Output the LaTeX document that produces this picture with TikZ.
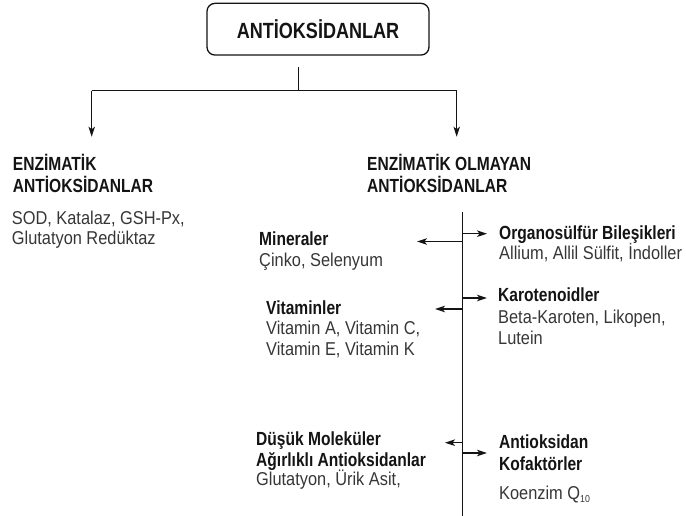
\documentclass[tikz,border=0pt]{standalone}
\usepackage{fontspec}
\setmainfont{Liberation Sans}
\newfontfamily\hdfont[FakeStretch=0.82]{Liberation Sans}
\newfontfamily\bdfont[FakeStretch=0.88]{Liberation Sans}
\usetikzlibrary{arrows.meta}
\definecolor{ink}{HTML}{141414}
\definecolor{bodyink}{HTML}{363636}
\tikzset{
  ln/.style={inner sep=0pt, anchor=west, text height=0.72em, text depth=0pt},
  hd/.style={ln, font=\hdfont\fontsize{19}{22}\selectfont\bfseries, text=ink},
  bd/.style={ln, font=\bdfont\fontsize{18.6}{22}\selectfont, text=bodyink},
  conn/.style={draw=ink, line width=1.2pt},
  arr/.style={conn, -{Stealth[length=10pt,width=6.5pt,inset=2.5pt]}},
  titlebox/.style={draw=ink, line width=1.3pt, rounded corners=8pt, minimum width=222pt, minimum height=51.7pt, inner sep=0pt, font=\hdfont\fontsize{22}{25}\selectfont\bfseries, text=ink}
}
\begin{document}
\begin{tikzpicture}[x=1pt,y=-1pt]
\useasboundingbox (0,0) rectangle (686,516);
% title
\node[titlebox] (title) at (318,29.2) {ANTİOKSİDANLAR};
% top tree
\coordinate (stem) at (298.3,66.7);
\coordinate (junc) at (298.3,90.7);
\coordinate (lcor) at (91.7,90.7);
\coordinate (rcor) at (456.7,90.7);
\coordinate (ltip) at (91.7,136.7);
\coordinate (rtip) at (456.7,136.7);
\draw[conn] (stem) -- (junc);
\draw[conn] (lcor) -- (rcor);
\draw[arr] (lcor) -- (ltip);
\draw[arr] (rcor) -- (rtip);
% left column
\node[hd] (ea1) at (12.7,166.5) {ENZİMATİK};
\node[hd] (ea2) at (12.7,189) {ANTİOKSİDANLAR};
\node[bd] (eb1) at (11.7,220.5) {SOD, Katalaz, GSH-Px,};
\node[bd] (eb2) at (11.7,241) {Glutatyon Redüktaz};
% right header
\node[hd] (na1) at (367,166.5) {ENZİMATİK OLMAYAN};
\node[hd] (na2) at (367,189) {ANTİOKSİDANLAR};
% spine
\coordinate (spt) at (462.5,211.7);
\coordinate (spb) at (462.5,516);
\draw[conn] (spt) -- (spb);
% left groups
\node[hd] (min1) at (259,242) {Mineraler};
\node[bd] (min2) at (259,263) {Çinko, Selenyum};
\node[hd] (vit1) at (266,310.5) {Vitaminler};
\node[bd] (vit2) at (266,331) {Vitamin A, Vitamin C,};
\node[bd] (vit3) at (266,351.5) {Vitamin E, Vitamin K};
\node[hd] (dus1) at (256,441.5) {Düşük Moleküler};
\node[hd] (dus2) at (256,462.5) {Ağırlıklı Antioksidanlar};
\node[bd] (dus3) at (256,482) {Glutatyon, Ürik Asit,};
% right groups
\node[hd] (org1) at (499,236) {Organosülfür Bileşikleri};
\node[bd] (org2) at (499,256) {Allium, Allil Sülfit, İndoller};
\node[hd] (kar1) at (498,298) {Karotenoidler};
\node[bd] (kar2) at (498,320) {Beta-Karoten, Likopen,};
\node[bd] (kar3) at (498,341) {Lutein};
\node[hd] (kof1) at (499,445) {Antioksidan};
\node[hd] (kof2) at (499,466.5) {Kofaktörler};
\node[bd] (kof3) at (499,495.5) {Koenzim Q\raisebox{-3pt}{\fontsize{10}{12}\selectfont 10}};
% branch arrows
\coordinate (tmin) at (417,241.5);
\coordinate (tvit) at (435,309);
\coordinate (tdus) at (445,442.7);
\coordinate (torg) at (487,233.7);
\coordinate (tkar) at (487,298);
\coordinate (tkof) at (487,453);
\draw[arr] (spt |- tmin) -- (tmin);
\draw[arr] (spt |- tvit) -- (tvit);
\draw[arr] (spt |- tdus) -- (tdus);
\draw[arr] (spt |- torg) -- (torg);
\draw[arr] (spt |- tkar) -- (tkar);
\draw[arr] (spt |- tkof) -- (tkof);
\end{tikzpicture}
\end{document}
